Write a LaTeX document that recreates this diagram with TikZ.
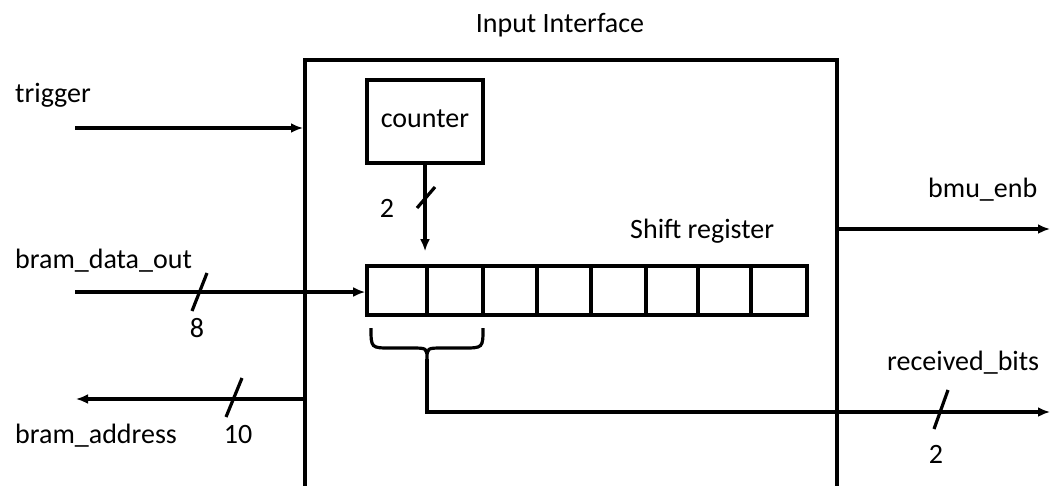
\documentclass[tikz,border=0pt]{standalone}
\usepackage{fontspec}
\setmainfont{Carlito}
\usetikzlibrary{arrows.meta,calc}
\begin{document}
\begin{tikzpicture}[x=1pt,y=-1pt,
  lbl/.style={inner sep=0pt, font=\fontsize{28}{34}\selectfont},
  box/.style={draw, line width=3.6pt, inner sep=0pt},
  cell/.style={draw, line width=3.6pt, inner sep=0pt, minimum height=49pt},
  conn/.style={line width=3.2pt},
  arr/.style={conn, -{Latex[length=12pt,width=10pt]}},
  slash/.style={line width=3.2pt}]
\useasboundingbox (0,0) rectangle (1057,485);
\clip (0,0) rectangle (1057,485);
% interface box (open at the bottom, cut by the page)
\node[box, minimum width=532pt, minimum height=470pt, anchor=north west] (iface) at (303,58) {};
\node[lbl, anchor=base] (title) at (560,32) {Input Interface};
% counter
\node[box, lbl, text depth=6pt, minimum width=116pt, minimum height=83pt] (counter) at (425,121.5) {counter};
% shift register cells
\foreach \a/\b [count=\i] in {367/427,427/483,483/537,537/591,591/646,646/698,698/751,751/807}
  \node[cell, minimum width={\b-\a}] (c\i) at ({(\a+\b)/2},290.5) {};
\node[lbl, anchor=base west] (sr) at (630,238) {Shift register};
% labels
\node[lbl, anchor=base west] (ltrig) at (15,102) {trigger};
\node[lbl, anchor=base west] (ldata) at (15,268) {bram\_data\_out};
\node[lbl, anchor=base] (l8) at (197,337) {8};
\node[lbl, anchor=base west] (laddr) at (15,443) {bram\_address};
\node[lbl, anchor=base] (l10) at (238,443) {10};
\node[lbl, anchor=base] (lc2) at (387,217) {2};
\node[lbl, anchor=base west] (lbmu) at (928,197) {bmu\_enb};
\node[lbl, anchor=base west] (lrb) at (887,370) {received\_bits};
\node[lbl, anchor=base] (lrb2) at (936,463) {2};
% connectors
\coordinate (trigin) at (75,128);
\draw[arr] (trigin) -- (trigin -| iface.west);
\coordinate (datain) at (75,292);
\draw[arr] (datain) -- (datain -| c1.west);
\draw[arr, shorten >=13pt] (counter.south) -- (counter.south |- c1.north);
\coordinate (bmu) at (1050,229);
\draw[arr] (bmu -| iface.east) -- (bmu);
\coordinate (addr) at (76,399);
\draw[arr] (addr -| iface.west) -- (addr);
% brace under the first two cells
\coordinate (btip) at (427,359);
\draw[conn] (371,328) .. controls (371,348) and (371,348) .. (391,348) -- (411,348)
  .. controls (427,348) and (427,348) .. (btip)
  .. controls (427,348) and (427,348) .. (443,348) -- (463,348)
  .. controls (483,348) and (483,348) .. (483,328);
\coordinate (rb) at (1050,412);
\draw[arr] (btip) |- (rb);
% bus width slashes
\draw[slash] (192,311) -- (207,273);
\draw[slash] (226,417) -- (242,378);
\draw[slash] (934,429) -- (948,390);
\draw[slash] (417,208) -- (435,187);
\end{tikzpicture}
\end{document}
